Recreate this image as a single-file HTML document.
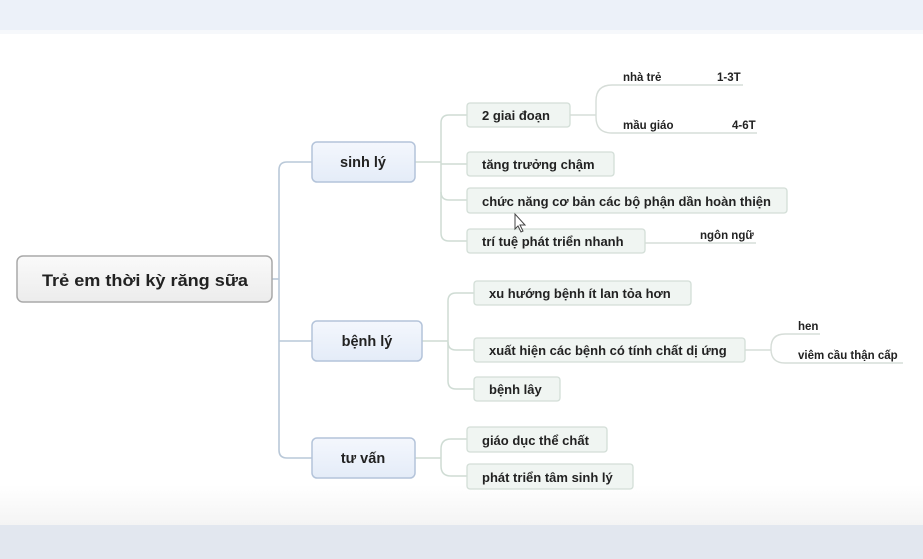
<!DOCTYPE html>
<html><head><meta charset="utf-8"><style>
html,body{margin:0;padding:0;width:923px;height:559px;overflow:hidden;background:#fff}
svg text{font-family:"Liberation Sans","DejaVu Sans",sans-serif;font-weight:bold;fill:#222}
</style></head><body>
<svg width="923" height="559" viewBox="0 0 923 559" xmlns="http://www.w3.org/2000/svg">
<defs>
<linearGradient id="bg" x1="0" y1="0" x2="0" y2="1">
<stop offset="0" stop-color="#ffffff"/><stop offset="1" stop-color="#f4f4f4"/></linearGradient>
<linearGradient id="l1" x1="0" y1="0" x2="0" y2="1">
<stop offset="0" stop-color="#f4f7fd"/><stop offset="1" stop-color="#e4ecf8"/></linearGradient>
<linearGradient id="rt" x1="0" y1="0" x2="0" y2="1">
<stop offset="0" stop-color="#fafafa"/><stop offset="1" stop-color="#ececec"/></linearGradient>
</defs>
<rect x="0" y="0" width="923" height="30" fill="#ecf1f9"/>
<rect x="0" y="30" width="923" height="4" fill="#f6f8fb"/>
<rect x="0" y="485" width="923" height="40" fill="url(#bg)"/>
<rect x="0" y="525" width="923" height="34" fill="#e2e7ef"/>

<g fill="none" stroke="#b9c8d8" stroke-width="1.6">
<path d="M272 279 H279"/>
<path d="M312 162 H287 Q279 162 279 170 V450 Q279 458 287 458 H312"/>
<path d="M279 341 H312"/>
</g>
<g fill="none" stroke="#cfdcd4" stroke-width="1.5">
<path d="M415 162 H441"/>
<path d="M467 115 H449 Q441 115 441 123 V233 Q441 241 449 241 H467"/>
<path d="M441 164 H467"/><path d="M441 192 Q441 200 449 200 H467"/>
<path d="M422 341 H448"/>
<path d="M474 293 H456 Q448 293 448 301 V381 Q448 389 456 389 H474"/>
<path d="M448 342 Q448 350 456 350 H474"/>
<path d="M415 458 H441"/>
<path d="M467 439 H451 Q441 439 441 449 V466 Q441 476 451 476 H467"/>
</g>
<g fill="none" stroke="#d6ddd8" stroke-width="1.4">
<path d="M570 115 H596"/>
<path d="M743 85 H612 Q596 85 596 101 V117 Q596 133 612 133 H757"/>
<path d="M645 243 H756"/>
<path d="M745 350 H771"/>
<path d="M820 334 H785 Q771 334 771 348 V349 Q771 363 785 363 H903"/>
</g>

<rect x="17" y="256" width="255" height="46" rx="6" fill="url(#rt)" stroke="#a9a9a9" stroke-width="1.5"/>
<text x="145" y="286" font-size="17" text-anchor="middle" textLength="206" lengthAdjust="spacingAndGlyphs">Trẻ em thời kỳ răng sữa</text>

<g fill="url(#l1)" stroke="#b4c4da" stroke-width="1.5">
<rect x="312" y="142" width="103" height="40" rx="5"/>
<rect x="312" y="321" width="110" height="40" rx="5"/>
<rect x="312" y="438" width="103" height="40" rx="5"/>
</g>
<g font-size="14.5" text-anchor="middle">
<text x="363" y="167">sinh lý</text>
<text x="367" y="346">bệnh lý</text>
<text x="363" y="463">tư vấn</text>
</g>

<g fill="#f0f5f2" stroke="#d3ded7" stroke-width="1.3">
<rect x="467" y="103" width="103" height="24" rx="3"/>
<rect x="467" y="152" width="147" height="24" rx="3"/>
<rect x="467" y="188" width="320" height="25" rx="3"/>
<rect x="467" y="229" width="178" height="24" rx="3"/>
<rect x="474" y="281" width="217" height="24" rx="3"/>
<rect x="474" y="338" width="271" height="24" rx="3"/>
<rect x="474" y="377" width="86" height="24" rx="3"/>
<rect x="467" y="427" width="140" height="25" rx="3"/>
<rect x="467" y="464" width="166" height="25" rx="3"/>
</g>
<g font-size="13">
<text x="482" y="120">2 giai đoạn</text>
<text x="482" y="169">tăng trưởng chậm</text>
<text x="482" y="206" textLength="289" lengthAdjust="spacingAndGlyphs">chức năng cơ bản các bộ phận dần hoàn thiện</text>
<text x="482" y="246">trí tuệ phát triển nhanh</text>
<text x="489" y="298">xu hướng bệnh ít lan tỏa hơn</text>
<text x="489" y="355">xuất hiện các bệnh có tính chất dị ứng</text>
<text x="489" y="394">bệnh lây</text>
<text x="482" y="445">giáo dục thể chất</text>
<text x="482" y="482">phát triển tâm sinh lý</text>
</g>
<g font-size="11.5">
<text x="623" y="81">nhà trẻ</text>
<text x="717" y="81">1-3T</text>
<text x="623" y="129">mầu giáo</text>
<text x="732" y="129">4-6T</text>
<text x="700" y="239">ngôn ngữ</text>
<text x="798" y="330">hen</text>
<text x="798" y="359">viêm cầu thận cấp</text>
</g>
<path d="M515 214 L515 229 L518 226 L521 232 L523 231 L520 225 L525 225 Z" fill="#fff" stroke="#444" stroke-width="1"/>
</svg>
</body></html>
